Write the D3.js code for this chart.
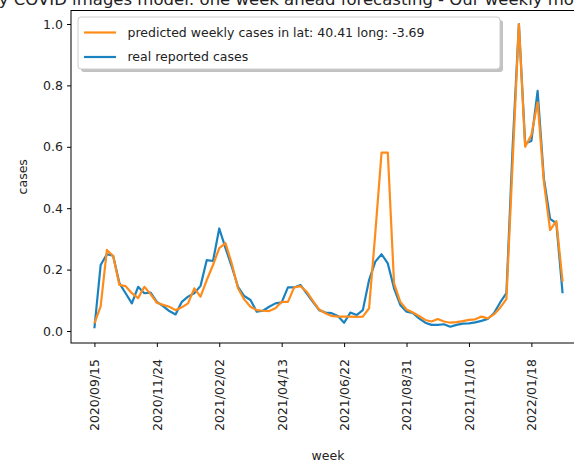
<!DOCTYPE html>
<html>
<head>
<meta charset="utf-8">
<script src="https://cdn.jsdelivr.net/npm/d3@7"></script>
<style>
    body { margin: 0; background: #fff; overflow: hidden; }
    text { font-family: "DejaVu Sans", sans-serif; fill: #222; }
</style>
</head>
<body>
<div id="vis"></div>
<script>
// weekly values, first week 2020/09/15
var realCases = [0.009, 0.215, 0.25, 0.245, 0.156, 0.123, 0.09, 0.144, 0.123, 0.125,
    0.095, 0.081, 0.065, 0.054, 0.095, 0.112, 0.123, 0.147, 0.231, 0.228,
    0.334, 0.27, 0.21, 0.144, 0.114, 0.101, 0.063, 0.066, 0.079, 0.09,
    0.093, 0.142, 0.142, 0.15, 0.123, 0.095, 0.068, 0.06, 0.058, 0.049,
    0.027, 0.06, 0.052, 0.068, 0.166, 0.226, 0.25, 0.22, 0.139, 0.085,
    0.063, 0.059, 0.041, 0.027, 0.02, 0.02, 0.022, 0.014, 0.02, 0.024,
    0.025, 0.028, 0.033, 0.039, 0.058, 0.093, 0.123, 0.6, 1.0, 0.611,
    0.619, 0.782, 0.497, 0.365, 0.351, 0.123];
var predictedCases = [0.025, 0.08, 0.264, 0.244, 0.15, 0.146, 0.123, 0.107, 0.144, 0.12,
    0.092, 0.085, 0.079, 0.068, 0.077, 0.09, 0.139, 0.112, 0.166, 0.215,
    0.27, 0.286, 0.22, 0.139, 0.103, 0.079, 0.068, 0.066, 0.065, 0.074,
    0.095, 0.095, 0.142, 0.146, 0.128, 0.098, 0.07, 0.058, 0.049, 0.047,
    0.047, 0.047, 0.046, 0.047, 0.074, 0.32, 0.581, 0.581, 0.155, 0.095,
    0.07, 0.06, 0.049, 0.036, 0.031, 0.039, 0.031, 0.027, 0.029, 0.032,
    0.036, 0.038, 0.047, 0.041, 0.054, 0.076, 0.104, 0.55, 1.0, 0.6,
    0.638, 0.745, 0.486, 0.329, 0.358, 0.161];
var tickWeeks = [0, 10, 20, 30, 40, 50, 60, 70];
var tickLabels = ['2020/09/15', '2020/11/24', '2021/02/02', '2021/04/13',
    '2021/06/22', '2021/08/31', '2021/11/10', '2022/01/18'];
var yTicks = [0, 0.2, 0.4, 0.6, 0.8, 1.0];
var seriesNames = ['predicted weekly cases in lat: 40.41 long: -3.69', 'real reported cases'];
var title = 'Weekly COVID images model: one week ahead forecasting - Our weekly model';

var width = 574, height = 463;
var plotLeft = 71, plotRight = 586, plotTop = 10.5, plotBottom = 343;
var orange = '#ff8c1a', blue = '#1a82bf';

var svg = d3.select('#vis').append('svg')
    .attr('width', width)
    .attr('height', height);

var xScale = d3.scaleLinear().domain([-3.75, 78.75]).range([plotLeft, plotRight]);
var yScale = d3.scaleLinear().domain([0, 1]).range([331, 24]);

var line = d3.line()
    .x(function(d, i) { return xScale(i); })
    .y(function(d) { return yScale(d); });

svg.append('path').datum(realCases)
    .attr('d', line)
    .attr('fill', 'none')
    .attr('stroke', blue)
    .attr('stroke-width', 2.2)
    .attr('stroke-linejoin', 'round');

svg.append('path').datum(predictedCases)
    .attr('d', line)
    .attr('fill', 'none')
    .attr('stroke', orange)
    .attr('stroke-width', 2.2)
    .attr('stroke-linejoin', 'round');

// frame
svg.append('rect')
    .attr('x', plotLeft).attr('y', plotTop)
    .attr('width', plotRight - plotLeft).attr('height', plotBottom - plotTop)
    .attr('fill', 'none').attr('stroke', '#000').attr('stroke-width', 1);

var xAxis = d3.axisBottom(xScale)
    .tickValues(tickWeeks)
    .tickSize(4)
    .tickPadding(3)
    .tickFormat(function(d, i) { return tickLabels[i]; });

var xg = svg.append('g')
    .attr('transform', 'translate(0,' + plotBottom + ')')
    .call(xAxis);
xg.select('.domain').remove();
xg.selectAll('line').attr('stroke', '#000');
xg.selectAll('text')
    .attr('font-size', 12.5)
    .attr('fill', '#222')
    .style('text-anchor', 'end')
    .attr('x', 0).attr('y', 0)
    .attr('dy', '0.35em')
    .attr('transform', 'translate(0,16) rotate(-90)');

var yAxis = d3.axisLeft(yScale)
    .tickValues(yTicks)
    .tickSize(4)
    .tickPadding(4)
    .tickFormat(d3.format('.1f'));

var yg = svg.append('g')
    .attr('transform', 'translate(' + plotLeft + ',0)')
    .call(yAxis);
yg.select('.domain').remove();
yg.selectAll('line').attr('stroke', '#000');
yg.selectAll('text').attr('font-size', 12.5).attr('fill', '#222');

svg.append('text')
    .attr('transform', 'translate(27,' + ((plotTop + plotBottom) / 2) + ') rotate(-90)')
    .attr('text-anchor', 'middle')
    .attr('font-size', 12.5)
    .text('cases');

svg.append('text')
    .attr('x', 328).attr('y', 460)
    .attr('text-anchor', 'middle')
    .attr('font-size', 12.5)
    .text('week');

// title sits partly above the picture, as in the cropped original
svg.append('text')
    .attr('x', -51).attr('y', 5)
    .attr('font-size', 16.5)
    .text(title);

// legend
var legend = svg.append('g').attr('transform', 'translate(78,17)');
legend.append('rect')
    .attr('x', 3).attr('y', 3)
    .attr('width', 422).attr('height', 52)
    .attr('rx', 3)
    .attr('fill', '#999').attr('opacity', 0.6);
legend.append('rect')
    .attr('width', 422).attr('height', 52)
    .attr('rx', 3)
    .attr('fill', '#fff')
    .attr('stroke', '#ccc');

var legendColors = [orange, blue];
var items = legend.selectAll('.item')
    .data(seriesNames)
    .enter().append('g')
    .attr('class', 'item')
    .attr('transform', function(d, i) { return 'translate(0,' + (15.5 + i * 24.5) + ')'; });
items.append('line')
    .attr('x1', 6).attr('x2', 38)
    .attr('stroke', function(d, i) { return legendColors[i]; })
    .attr('stroke-width', 2.2);
items.append('text')
    .attr('x', 49.5)
    .attr('dy', '0.35em')
    .attr('font-size', 12.5)
    .text(function(d) { return d; });
</script>
</body>
</html>
